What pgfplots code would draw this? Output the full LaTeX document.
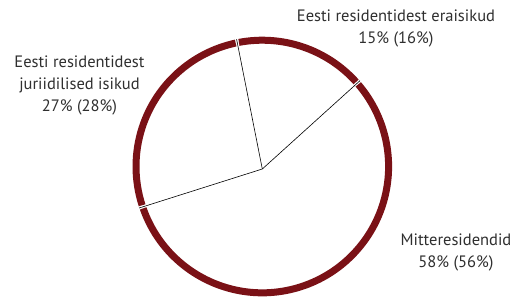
\documentclass[border=0pt]{standalone}
\usepackage{pgfplots}
\pgfplotsset{compat=1.18}
\usetikzlibrary{calc}
\usepackage{fontspec}
\setmainfont{PT Sans}
\definecolor{ring}{HTML}{7A1116}
\definecolor{txt}{HTML}{2F2F2F}
% shares of the circle as drawn (percent) and start angle
\def\shareA{16.7}% Eesti residentidest eraisikud
\def\shareB{27.0}% Eesti residentidest juriidilised isikud
\def\shareC{56.3}% Mitteresidendid
\def\startAngle{41.3}
\pgfmathsetmacro{\aA}{\startAngle}
\pgfmathsetmacro{\aB}{\aA+3.6*\shareA}
\pgfmathsetmacro{\aC}{\aB+3.6*\shareB}
\pgfmathsetmacro{\aD}{\aC+3.6*\shareC}
\def\R{126.3pt}
\def\Ro{130pt}
\def\g{0.75}
\begin{document}
\begin{tikzpicture}
\begin{axis}[width=521pt,height=298pt,scale only axis,at={(0,0)},anchor=south west,
  xmin=0,xmax=521,ymin=0,ymax=298,hide axis,clip=false]
\coordinate (c) at (axis cs:262.3,131.5);
\coordinate (j) at (axis cs:262.3,129);
% separators
\draw[black,line width=0.6pt] (j) -- ($(c)+(\aA:\Ro)$);
\draw[black,line width=0.6pt] (j) -- ($(c)+(\aB:\Ro)$);
\draw[black,line width=0.6pt] (j) -- ($(c)+(\aC:\Ro)$);
% ring
\draw[ring,line width=7pt] ($(c)+(\aA+\g:\R)$) arc[start angle=\aA+\g,end angle=\aB-\g,radius=\R];
\draw[ring,line width=7pt] ($(c)+(\aB+\g:\R)$) arc[start angle=\aB+\g,end angle=\aC-\g,radius=\R];
\draw[ring,line width=7pt] ($(c)+(\aC+\g:\R)$) arc[start angle=\aC+\g,end angle=\aD-\g,radius=\R];
% labels
\node[txt,align=center,inner sep=0pt,font=\fontsize{16.5}{22}\selectfont] at (axis cs:396,269.5) {Eesti residentidest eraisikud\\15\% (16\%)};
\node[txt,align=center,inner sep=0pt,font=\fontsize{16.5}{22}\selectfont] at (axis cs:79.5,213) {Eesti residentidest\\juriidilised isikud\\27\% (28\%)};
\node[txt,align=center,inner sep=0pt,font=\fontsize{16.5}{22}\selectfont] at (axis cs:456,46) {Mitteresidendid\\58\% (56\%)};
\end{axis}
\pgfresetboundingbox
\path (0,0) rectangle (521pt,298pt);
\end{tikzpicture}
\end{document}
